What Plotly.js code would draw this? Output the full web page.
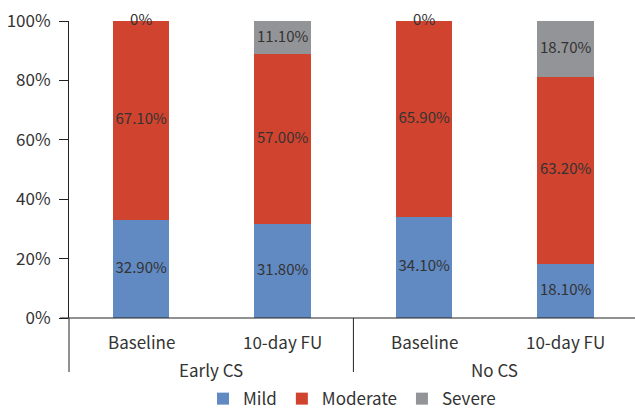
<!DOCTYPE html>
<html>
<head>
<meta charset="utf-8">
<script src="https://cdn.plot.ly/plotly-3.0.1.min.js"></script>
<style>
  html, body { margin: 0; padding: 0; background: #fff; }
  #chart { width: 635px; height: 410px; }
</style>
</head>
<body>
<div id="chart"></div>
<script>
// Time points within each group, and the two groups
const timepoints = ['Baseline', '10-day FU', 'Baseline', '10-day FU'];
const groups = ['Early CS', 'No CS'];

// Share of patients (%) by severity
const mild     = [32.9, 31.8, 34.1, 18.1];
const moderate = [67.1, 57.0, 65.9, 63.2];
const severe   = [0, 11.1, 0, 18.7];

// Y axis ticks
const yTickVals = [0, 20, 40, 60, 80, 100];
const yTickText = ['0%', '20%', '40%', '60%', '80%', '100%'];

const seriesNames = ['Mild', 'Moderate', 'Severe'];
const colors = ['#6189c2', '#d0432e', '#939497'];

const FONT = '"Noto Sans CJK KR", "Noto Sans", sans-serif';
const xs = timepoints.map((_, i) => i);
const series = [mild, moderate, severe];
const perGroup = timepoints.length / groups.length;

const fmt = v => (v === 0 ? '0%' : v.toFixed(2) + '%');

const traces = series.map((vals, k) => ({
  type: 'bar',
  name: seriesNames[k],
  x: xs,
  y: vals,
  width: 0.4,
  marker: { color: colors[k], line: { width: 0 } },
  hoverinfo: 'skip'
}));

// Value labels sit at the middle of each stacked segment
const lx = [], ly = [], lt = [];
xs.forEach((x, i) => {
  let base = 0;
  series.forEach(vals => {
    lx.push(x);
    ly.push(base + vals[i] / 2);
    lt.push(fmt(vals[i]));
    base += vals[i];
  });
});
traces.push({
  type: 'scatter',
  mode: 'text',
  x: lx,
  y: ly,
  text: lt,
  textposition: 'middle center',
  textfont: { family: FONT, size: 15, color: '#333333' },
  showlegend: false,
  hoverinfo: 'skip',
  cliponaxis: false
});

// Two-level category labels: time point under each bar, group centred on its span
const xRange = [-0.51, 3.49];
const annotations = [];
timepoints.forEach((t, i) => annotations.push({
  x: i, xref: 'x', y: -0.08, yref: 'paper',
  text: t, showarrow: false, xanchor: 'center', yanchor: 'middle',
  font: { family: FONT, size: 17, color: '#333333' }
}));
const bounds = groups.map((_, g) => [
  g === 0 ? xRange[0] : g * perGroup - 0.5,
  g === groups.length - 1 ? xRange[1] : (g + 1) * perGroup - 0.5
]);
groups.forEach((g, i) => annotations.push({
  x: (bounds[i][0] + bounds[i][1]) / 2, xref: 'x', y: -0.172, yref: 'paper',
  text: g, showarrow: false, xanchor: 'center', yanchor: 'middle',
  font: { family: FONT, size: 17, color: '#333333' }
}));

const axisLine = { color: '#222222', width: 1 };
const shapes = [
  // x axis line, running slightly past the y axis
  { type: 'line', xref: 'paper', yref: 'paper', x0: -0.016, x1: 1, y0: 0, y1: 0, line: axisLine, layer: 'above' },
  // y axis line continued down through the category labels
  { type: 'line', xref: 'paper', yref: 'paper', x0: 0, x1: 0, y0: 0, y1: -0.182, line: axisLine, layer: 'above' }
];
// dividers between groups
for (let g = 1; g < groups.length; g++) {
  shapes.push({ type: 'line', xref: 'x', yref: 'paper', x0: g * perGroup - 0.5, x1: g * perGroup - 0.5,
                y0: 0, y1: -0.182, line: axisLine, layer: 'above' });
}

const layout = {
  width: 635,
  height: 410,
  margin: { l: 69, r: 0, t: 21, b: 92, autoexpand: false },
  paper_bgcolor: '#ffffff',
  plot_bgcolor: '#ffffff',
  barmode: 'stack',
  showlegend: true,
  font: { family: FONT, color: '#333333' },
  xaxis: {
    range: xRange,
    showticklabels: false,
    ticks: '',
    showgrid: false,
    zeroline: false,
    showline: false,
    automargin: false
  },
  yaxis: {
    range: [0, 100],
    tickmode: 'array',
    tickvals: yTickVals,
    ticktext: yTickText,
    ticks: 'outside',
    ticklen: 9,
    tickcolor: '#222222',
    tickfont: { family: FONT, size: 17, color: '#333333' },
    ticklabelstandoff: 5,
    showgrid: false,
    zeroline: false,
    showline: true,
    linecolor: '#222222',
    linewidth: 1,
    automargin: false
  },
  legend: {
    orientation: 'h',
    x: 0.5, xanchor: 'center',
    y: -0.273, yanchor: 'middle',
    font: { family: FONT, size: 17, color: '#333333' },
    traceorder: 'normal'
  },
  annotations: annotations,
  shapes: shapes
};

Plotly.newPlot('chart', traces, layout, { displayModeBar: false, staticPlot: true });
</script>
</body>
</html>
